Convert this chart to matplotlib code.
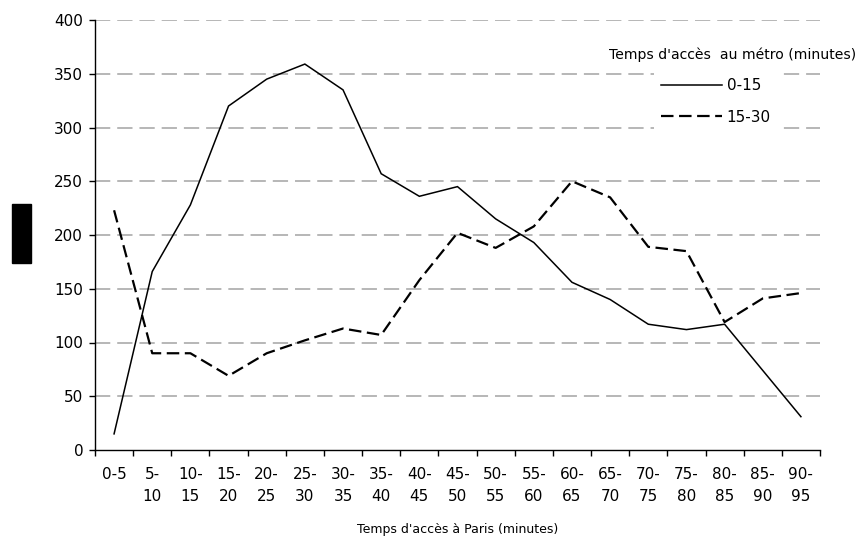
import matplotlib
matplotlib.use("Agg")
import matplotlib.pyplot as plt
from matplotlib.patches import Rectangle
from matplotlib.ticker import FixedLocator
import numpy as np

plt.rcParams['font.family'] = ['DejaVu Sans']
plt.rcParams['lines.scale_dashes'] = False

categories = ["0-5", "5-\n10", "10-\n15", "15-\n20", "20-\n25", "25-\n30", "30-\n35",
              "35-\n40", "40-\n45", "45-\n50", "50-\n55", "55-\n60", "60-\n65",
              "65-\n70", "70-\n75", "75-\n80", "80-\n85", "85-\n90", "90-\n95"]
metro_0_15 = [15, 166, 228, 320, 345, 359, 335, 257, 236, 245, 215, 193, 156,
              140, 117, 112, 117, 74, 31]
metro_15_30 = [223, 90, 90, 69, 90, 102, 113, 107, 158, 202, 188, 208, 250,
               235, 189, 185, 119, 141, 146]
series_labels = ["0-15", "15-30"]
legend_title = "Temps d'accès  au métro (minutes)"
x_title = "Temps d'accès à Paris (minutes)"
y_ticks = np.arange(0, 401, 50)

W, H = 858, 541
fig = plt.figure(figsize=(W / 100, H / 100), dpi=100)
ax = fig.add_axes([95 / W, 1 - 450 / H, 725 / W, 430 / H])

x = np.arange(len(categories))
ax.set_xlim(-0.5, len(categories) - 0.5)
ax.set_ylim(0, 400)

# dashed gray gridlines above the zero line
ax.hlines(y_ticks[1:], -0.5, len(categories) - 0.5, colors='#a3a3a3',
          linewidth=1.1, linestyles=(0, (11, 5)), zorder=0.5)

l1, = ax.plot(x, metro_0_15, color='black', lw=1.1, solid_joinstyle='miter', zorder=3)
l2, = ax.plot(x, metro_15_30, color='black', lw=1.6, dashes=(9, 4), zorder=3)

ax.set_yticks(y_ticks)
ax.set_xticks(x)
ax.set_xticklabels(categories, fontsize=11, linespacing=1.62, va='top')
ax.xaxis.set_minor_locator(FixedLocator(np.arange(-0.5, len(categories), 1.0)))
ax.tick_params(axis='x', which='major', length=0, pad=12)
ax.tick_params(axis='x', which='minor', length=4.5, width=1, color='black', direction='out')
ax.tick_params(axis='y', length=4.5, width=1, labelsize=11, pad=4)

for s in ('top', 'right'):
    ax.spines[s].set_visible(False)
for s in ('left', 'bottom'):
    ax.spines[s].set_linewidth(1.0)
    ax.spines[s].set_color('black')
    ax.spines[s].set_zorder(4)

ax.set_xlabel(x_title, fontsize=9, va='center')
ax.xaxis.set_label_coords(0.5, (450 - 530) / 430)

fig.text(609 / W, 1 - 55 / H, legend_title, fontsize=10.1, ha='left', va='center')
leg = ax.legend([l1, l2], series_labels, loc='upper left', frameon=True,
                bbox_to_anchor=(654 / W, 1 - 71 / H), bbox_transform=fig.transFigure,
                fontsize=11, handlelength=4.0, handletextpad=0.3, labelspacing=1.1,
                borderpad=0.45, borderaxespad=0.0, fancybox=False)
leg.get_frame().set_facecolor('white')
leg.get_frame().set_edgecolor('none')
leg.get_frame().set_alpha(1.0)

fig.add_artist(Rectangle((12 / W, 1 - 263 / H), 19 / W, 59 / H,
                         transform=fig.transFigure, color='black'))

fig.savefig("out.png", dpi=100)
